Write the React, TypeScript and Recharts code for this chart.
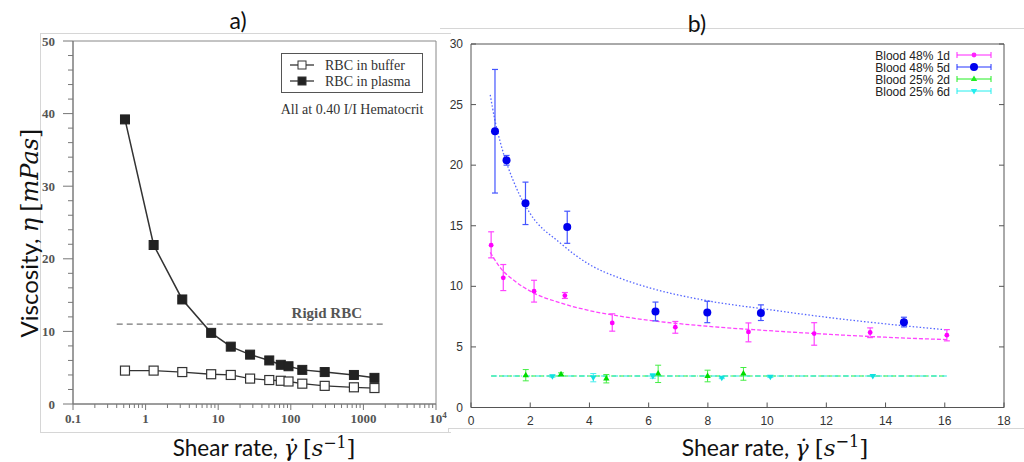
import React from 'react';
import {
  ComposedChart,
  Scatter,
  Line,
  XAxis,
  YAxis,
  ErrorBar,
  ReferenceArea,
  ReferenceDot,
  Legend,
} from 'recharts';

// ---------- panel a) viscosity vs shear rate (log x) ----------
const shearA = [0.52, 1.29, 3.2, 8.0, 14.9, 27.5, 50.5, 72.8, 93, 144, 293, 740, 1420];
const plasmaA = [39.2, 21.9, 14.4, 9.8, 7.9, 6.8, 6.0, 5.4, 5.2, 4.7, 4.4, 4.0, 3.6];
const bufferA = [4.6, 4.6, 4.4, 4.1, 4.0, 3.5, 3.3, 3.2, 3.1, 2.8, 2.5, 2.3, 2.2];
const rigidX = [0.4, 2000];
const rigidY = 11;
const rigidLabelX = 313;
const xMajorA = [0.1, 1, 10, 100, 1000, 10000];
const yMajorA = [0, 10, 20, 30, 40, 50];

// ---------- panel b) viscosity vs shear rate (linear) ----------
const x48d1 = [0.68, 1.09, 2.13, 3.17, 4.77, 6.9, 9.37, 11.59, 13.48, 16.07];
const y48d1 = [13.4, 10.7, 9.6, 9.24, 6.98, 6.63, 6.24, 6.1, 6.19, 5.97];
const lo48d1 = [12.35, 9.65, 8.7, 9.0, 6.3, 6.13, 5.42, 5.14, 5.77, 5.5];
const hi48d1 = [14.5, 11.8, 10.5, 9.49, 7.73, 7.1, 6.98, 7.0, 6.57, 6.43];

const x48d5 = [0.81, 1.2, 1.84, 3.25, 6.23, 7.98, 9.79, 14.62];
const y48d5 = [22.8, 20.4, 16.85, 14.9, 7.92, 7.84, 7.8, 7.04];
const lo48d5 = [17.7, 20.0, 15.1, 13.55, 7.15, 7.0, 7.18, 6.65];
const hi48d5 = [27.9, 20.8, 18.6, 16.2, 8.7, 8.77, 8.47, 7.45];

const x25d2 = [1.85, 3.04, 4.57, 6.32, 7.99, 9.2];
const y25d2 = [2.67, 2.75, 2.39, 2.8, 2.61, 2.8];
const lo25d2 = [2.2, 2.61, 2.03, 2.06, 2.12, 2.25];
const hi25d2 = [3.13, 2.86, 2.72, 3.49, 3.08, 3.3];

const x25d6 = [2.75, 4.13, 6.14, 8.47, 10.11, 13.57];
const y25d6 = [2.58, 2.47, 2.61, 2.45, 2.53, 2.61];
const lo25d6 = [2.5, 2.12, 2.42, 2.38, 2.47, 2.55];
const hi25d6 = [2.66, 2.8, 2.8, 2.52, 2.6, 2.68];

// fitted curves
const fitX48d1 = [0.65, 1, 1.5, 2, 3, 4, 5, 6, 8, 10, 12, 14, 16.1];
const fitY48d1 = [12.8, 11.5, 10.4, 9.6, 8.65, 8.0, 7.55, 7.2, 6.7, 6.35, 6.05, 5.8, 5.6];
const fitX48d5 = [0.65, 0.8, 1, 1.5, 2, 3, 4, 5, 6, 8, 10, 12, 14, 16.1];
const fitY48d5 = [25.8, 23.8, 21.8, 18.3, 16.0, 13.6, 11.8, 10.7, 9.9, 8.8, 8.1, 7.45, 6.9, 6.4];
const fitX25 = [0.68, 16.07];
const fitY25 = [2.6, 2.6];

const xTicksB = [0, 2, 4, 6, 8, 10, 12, 14, 16, 18];
const yTicksB = [0, 5, 10, 15, 20, 25, 30];

const legendB = [
  { name: 'Blood 48% 1d', color: '#ff22ff', marker: 'dot' },
  { name: 'Blood 48% 5d', color: '#2233ff', marker: 'big' },
  { name: 'Blood 25% 2d', color: '#22ee22', marker: 'up' },
  { name: 'Blood 25% 6d', color: '#22eeee', marker: 'down' },
];

const zipXY = (xs: number[], ys: number[]) => xs.map((x, i) => ({ x, y: ys[i] }));
const withErr = (xs: number[], ys: number[], lo: number[], hi: number[]) =>
  xs.map((x, i) => ({ x, y: ys[i], e: [ys[i] - lo[i], hi[i] - ys[i]] }));

const xMinorA = xMajorA.slice(0, -1).flatMap((d) => [2, 3, 4, 5, 6, 7, 8, 9].map((k) => +(d * k).toPrecision(3)));
const xTicksA = [...xMajorA, ...xMinorA].sort((a, b) => a - b);
const yTicksA = Array.from({ length: 26 }, (_, i) => i * 2);

const SERIF = '"Liberation Serif", "DejaVu Serif", serif';
const SANS = '"Liberation Sans", Arial, sans-serif';

// ---------- tick renderers ----------
const LogTickA = (props: any) => {
  const { x, y, payload } = props;
  const v = payload.value;
  const major = xMajorA.includes(v);
  return (
    <g>
      <line x1={x} x2={x} y1={y} y2={y + (major ? 6 : 4)} stroke="#777" />
      {major && (
        <text x={x + (v === 10000 ? 2 : 0)} y={y + 19} textAnchor="middle" fontFamily={SERIF} fontSize={13} fontWeight="bold" fill="#555">
          {v === 10000 ? (
            <>
              10<tspan dy={-5} fontSize={9}>4</tspan>
            </>
          ) : (
            String(v)
          )}
        </text>
      )}
    </g>
  );
};

const YTickA = (props: any) => {
  const { x, y, payload } = props;
  const major = yMajorA.includes(payload.value);
  return (
    <g>
      <line x1={x} x2={x - (major ? 10 : 5)} y1={y} y2={y} stroke="#777" />
      {major && (
        <text x={x - 18} y={y + 4.5} textAnchor="end" fontFamily={SERIF} fontSize={13} fontWeight="bold" fill="#555">
          {payload.value}
        </text>
      )}
    </g>
  );
};

const XTickB = (props: any) => {
  const { x, y, payload } = props;
  return (
    <g>
      <line x1={x} x2={x} y1={y} y2={y - 5} stroke="#555" />
      <text x={x} y={y + 17} textAnchor="middle" fontFamily={SANS} fontSize={12} fill="#333">
        {payload.value}
      </text>
    </g>
  );
};

const YTickB = (props: any) => {
  const { x, y, payload } = props;
  return (
    <g>
      <line x1={x} x2={x + 5} y1={y} y2={y} stroke="#555" />
      <text x={x - 8} y={y + 4} textAnchor="end" fontFamily={SANS} fontSize={12} fill="#333">
        {payload.value}
      </text>
    </g>
  );
};

const TopTickB = (props: any) => <line x1={props.x} x2={props.x} y1={props.y} y2={props.y + 5} stroke="#555" />;
const RightTickB = (props: any) => <line x1={props.x} x2={props.x - 5} y1={props.y} y2={props.y} stroke="#555" />;

// ---------- marker shapes ----------
const openSquare = (p: any) => <rect x={p.cx - 4.5} y={p.cy - 4.5} width={9} height={9} fill="#fff" stroke="#333" strokeWidth={1.2} />;
const filledSquare = (p: any) => <rect x={p.cx - 4.5} y={p.cy - 4.5} width={9} height={9} fill="#222" stroke="#222" />;

const markerB = (kind: string, cx: number, cy: number, color: string) => {
  if (kind === 'dot') return <circle cx={cx} cy={cy} r={2.4} fill={color} />;
  if (kind === 'big') return <circle cx={cx} cy={cy} r={4} fill="#0000ee" />;
  if (kind === 'up') return <path d={`M${cx},${cy - 3.5}L${cx + 3.2},${cy + 2}L${cx - 3.2},${cy + 2}Z`} fill={color} />;
  return <path d={`M${cx},${cy + 3.5}L${cx + 3.2},${cy - 2}L${cx - 3.2},${cy - 2}Z`} fill={color} />;
};

// ---------- legends ----------
const LegendA = () => (
  <svg width={165} height={66} style={{ display: 'block', overflow: 'visible' }}>
    <rect x={11.5} y={0.5} width={141} height={39} fill="#fff" stroke="#555" />
    {[
      { label: 'RBC in buffer', fill: '#fff', y: 12 },
      { label: 'RBC in plasma', fill: '#222', y: 28 },
    ].map((r) => (
      <g key={r.label}>
        <line x1={20} x2={44} y1={r.y} y2={r.y} stroke="#333" strokeWidth={1.3} />
        <rect x={28} y={r.y - 4} width={8} height={8} fill={r.fill} stroke="#333" />
        <text x={55} y={r.y + 4.5} fontFamily={SERIF} fontSize={14} fill="#333">
          {r.label}
        </text>
      </g>
    ))}
    <text x={82} y={61} textAnchor="middle" fontFamily={SERIF} fontSize={14} fill="#333">
      All at 0.40 I/I Hematocrit
    </text>
  </svg>
);

const LegendB = () => (
  <svg width={140} height={50} style={{ display: 'block', overflow: 'visible' }}>
    {legendB.map((s, i) => {
      const y = 7 + i * 12;
      return (
        <g key={s.name}>
          <text x={90} y={y + 4.5} textAnchor="end" fontFamily={SANS} fontSize={12} fill="#222">
            {s.name}
          </text>
          <line x1={97} x2={131} y1={y} y2={y} stroke={s.color} strokeWidth={1} />
          <line x1={97} x2={97} y1={y - 3} y2={y + 3} stroke={s.color} />
          <line x1={131} x2={131} y1={y - 3} y2={y + 3} stroke={s.color} />
          {markerB(s.marker, 114, y, s.color)}
        </g>
      );
    })}
  </svg>
);

function PanelA() {
  return (
    <ComposedChart width={450} height={462} margin={{ top: 41, right: 14, bottom: 28, left: 13 }}>
      <XAxis
        dataKey="x"
        type="number"
        scale="log"
        domain={[0.1, 10000]}
        ticks={xTicksA}
        interval={0}
        allowDataOverflow
        height={30}
        tickSize={0}
        tickMargin={0}
        tickLine={false}
        tick={LogTickA}
        axisLine={{ stroke: '#777' }}
      />
      <YAxis
        dataKey="y"
        type="number"
        domain={[0, 50]}
        ticks={yTicksA}
        interval={0}
        allowDataOverflow
        width={60}
        tickSize={0}
        tickMargin={0}
        tickLine={false}
        tick={YTickA}
        axisLine={{ stroke: '#777' }}
      />
      <ReferenceArea x1={0.1} x2={10000} y1={0} y2={50} fill="none" stroke="#888" ifOverflow="visible" />
      <Line
        data={rigidX.map((x) => ({ x, y: rigidY }))}
        dataKey="y"
        stroke="#777"
        strokeWidth={1.2}
        strokeDasharray="6 4"
        dot={false}
        isAnimationActive={false}
      />
      <ReferenceDot
        x={rigidLabelX}
        y={rigidY}
        r={0}
        label={{ value: 'Rigid RBC', position: 'top', offset: 6, fontFamily: SERIF, fontSize: 15, fill: '#555', fontWeight: 'bold' }}
      />
      <Scatter
        data={zipXY(shearA, bufferA)}
        line={{ stroke: '#333', strokeWidth: 1.3 }}
        shape={openSquare}
        isAnimationActive={false}
      />
      <Scatter
        data={zipXY(shearA, plasmaA)}
        line={{ stroke: '#333', strokeWidth: 1.5 }}
        shape={filledSquare}
        isAnimationActive={false}
      />
      <Legend
        content={LegendA}
        layout="vertical"
        align="center"
        verticalAlign="middle"
        wrapperStyle={{ left: 270, top: 53, width: 165, height: 66 }}
      />
    </ComposedChart>
  );
}

function PanelB() {
  return (
    <ComposedChart width={584} height={462} margin={{ top: 24, right: 5, bottom: 24.5, left: 1 }}>
      <XAxis
        dataKey="x"
        type="number"
        domain={[0, 18]}
        ticks={xTicksB}
        interval={0}
        allowDataOverflow
        height={30}
        tickSize={0}
        tickMargin={0}
        tickLine={false}
        tick={XTickB}
        axisLine={{ stroke: '#555' }}
      />
      <XAxis
        xAxisId="top"
        orientation="top"
        type="number"
        domain={[0, 18]}
        ticks={xTicksB}
        interval={0}
        allowDataOverflow
        height={20}
        tickSize={0}
        tickMargin={0}
        tickLine={false}
        tick={TopTickB}
        axisLine={{ stroke: '#555' }}
      />
      <YAxis
        dataKey="y"
        type="number"
        domain={[0, 30]}
        ticks={yTicksB}
        interval={0}
        allowDataOverflow
        width={30}
        tickSize={0}
        tickMargin={0}
        tickLine={false}
        tick={YTickB}
        axisLine={{ stroke: '#555' }}
      />
      <YAxis
        yAxisId="right"
        orientation="right"
        type="number"
        domain={[0, 30]}
        ticks={yTicksB}
        interval={0}
        allowDataOverflow
        width={15}
        tickSize={0}
        tickMargin={0}
        tickLine={false}
        tick={RightTickB}
        axisLine={{ stroke: '#555' }}
      />
      <Line data={zipXY(fitX25, fitY25)} dataKey="y" stroke="#33ee33" strokeWidth={1.2} strokeDasharray="5 3" dot={false} isAnimationActive={false} />
      <Line data={zipXY(fitX25, fitY25)} dataKey="y" stroke="#22e6e6" strokeWidth={1.2} strokeDasharray="6 2 1 2" dot={false} isAnimationActive={false} />
      <Line data={zipXY(fitX48d1, fitY48d1)} dataKey="y" type="monotone" stroke="#ff44ff" strokeWidth={1.3} strokeDasharray="4 2" dot={false} isAnimationActive={false} />
      <Line data={zipXY(fitX48d5, fitY48d5)} dataKey="y" type="monotone" stroke="#5566ff" strokeWidth={1.3} strokeDasharray="1.5 2" dot={false} isAnimationActive={false} />
      <Scatter data={withErr(x25d2, y25d2, lo25d2, hi25d2)} shape={(p: any) => markerB('up', p.cx, p.cy, '#00dd00')} isAnimationActive={false}>
        <ErrorBar dataKey="e" direction="y" width={3} stroke="#44ee44" strokeWidth={1} />
      </Scatter>
      <Scatter data={withErr(x25d6, y25d6, lo25d6, hi25d6)} shape={(p: any) => markerB('down', p.cx, p.cy, '#11e0e0')} isAnimationActive={false}>
        <ErrorBar dataKey="e" direction="y" width={3} stroke="#44eeee" strokeWidth={1} />
      </Scatter>
      <Scatter data={withErr(x48d1, y48d1, lo48d1, hi48d1)} shape={(p: any) => markerB('dot', p.cx, p.cy, '#ff00ff')} isAnimationActive={false}>
        <ErrorBar dataKey="e" direction="y" width={3} stroke="#ff44ff" strokeWidth={1.2} />
      </Scatter>
      <Scatter data={withErr(x48d5, y48d5, lo48d5, hi48d5)} shape={(p: any) => markerB('big', p.cx, p.cy, '#0000ee')} isAnimationActive={false}>
        <ErrorBar dataKey="e" direction="y" width={3} stroke="#4455ff" strokeWidth={1.2} />
      </Scatter>
      <Legend
        content={LegendB}
        layout="vertical"
        align="center"
        verticalAlign="middle"
        wrapperStyle={{ left: 420, top: 48, width: 140, height: 50 }}
      />
    </ComposedChart>
  );
}

const mathStyle: React.CSSProperties = { fontFamily: '"DejaVu Serif", "Liberation Serif", serif', fontStyle: 'italic' };
const label: React.CSSProperties = { position: 'absolute', whiteSpace: 'nowrap', fontFamily: 'Lato, "Open Sans", sans-serif', color: '#111', lineHeight: 1 };

function ShearLabel() {
  return (
    <>
      Shear rate, <span style={mathStyle}>γ̇</span>{' '}
      <span style={{ fontFamily: '"DejaVu Serif", serif' }}>[</span>
      <span style={mathStyle}>s</span>
      <sup style={{ fontSize: '0.7em', fontFamily: '"DejaVu Serif", serif' }}>−1</sup>
      <span style={{ fontFamily: '"DejaVu Serif", serif' }}>]</span>
    </>
  );
}

export default function App() {
  return (
    <div style={{ position: 'fixed', left: 0, top: 0, width: 1024, height: 462, background: '#fff', overflow: 'hidden' }}>
      {/* scanned-image borders */}
      <div style={{ position: 'absolute', left: 40, top: 33, width: 410, height: 398, borderLeft: '1px solid #d6d6d6', borderTop: '1px solid #d6d6d6', borderBottom: '1px solid #d6d6d6' }} />
      <div style={{ position: 'absolute', left: 0, top: 0 }}>
        <PanelA />
      </div>
      <div style={{ position: 'absolute', left: 440, top: 28, width: 584, height: 0, borderTop: '1px solid #d6d6d6' }} />
      <div style={{ position: 'absolute', left: 448, top: 428, width: 576, height: 4, borderTop: '1px solid #d6d6d6', borderLeft: '1px solid #d6d6d6' }} />
      <div style={{ position: 'absolute', left: 440, top: 0 }}>
        <PanelB />
      </div>

      <div style={{ ...label, left: 238, top: 20, fontSize: 23, transform: 'translate(-50%, -50%)' }}>a)</div>
      <div style={{ ...label, left: 697, top: 23, fontSize: 23, transform: 'translate(-50%, -50%)' }}>b)</div>

      <div style={{ ...label, left: 29, top: 233, fontSize: 24, transform: 'translate(-50%, -50%) rotate(-90deg)' }}>
        Viscosity, <span style={mathStyle}>η</span>{' '}
        <span style={{ fontFamily: '"DejaVu Serif", serif' }}>[</span>
        <span style={mathStyle}>mPas</span>
        <span style={{ fontFamily: '"DejaVu Serif", serif' }}>]</span>
      </div>
      <div style={{ ...label, left: 264, top: 447, fontSize: 22.5, transform: 'translate(-50%, -50%)' }}>
        <ShearLabel />
      </div>
      <div style={{ ...label, left: 775, top: 447, fontSize: 23, transform: 'translate(-50%, -50%)' }}>
        <ShearLabel />
      </div>
    </div>
  );
}
